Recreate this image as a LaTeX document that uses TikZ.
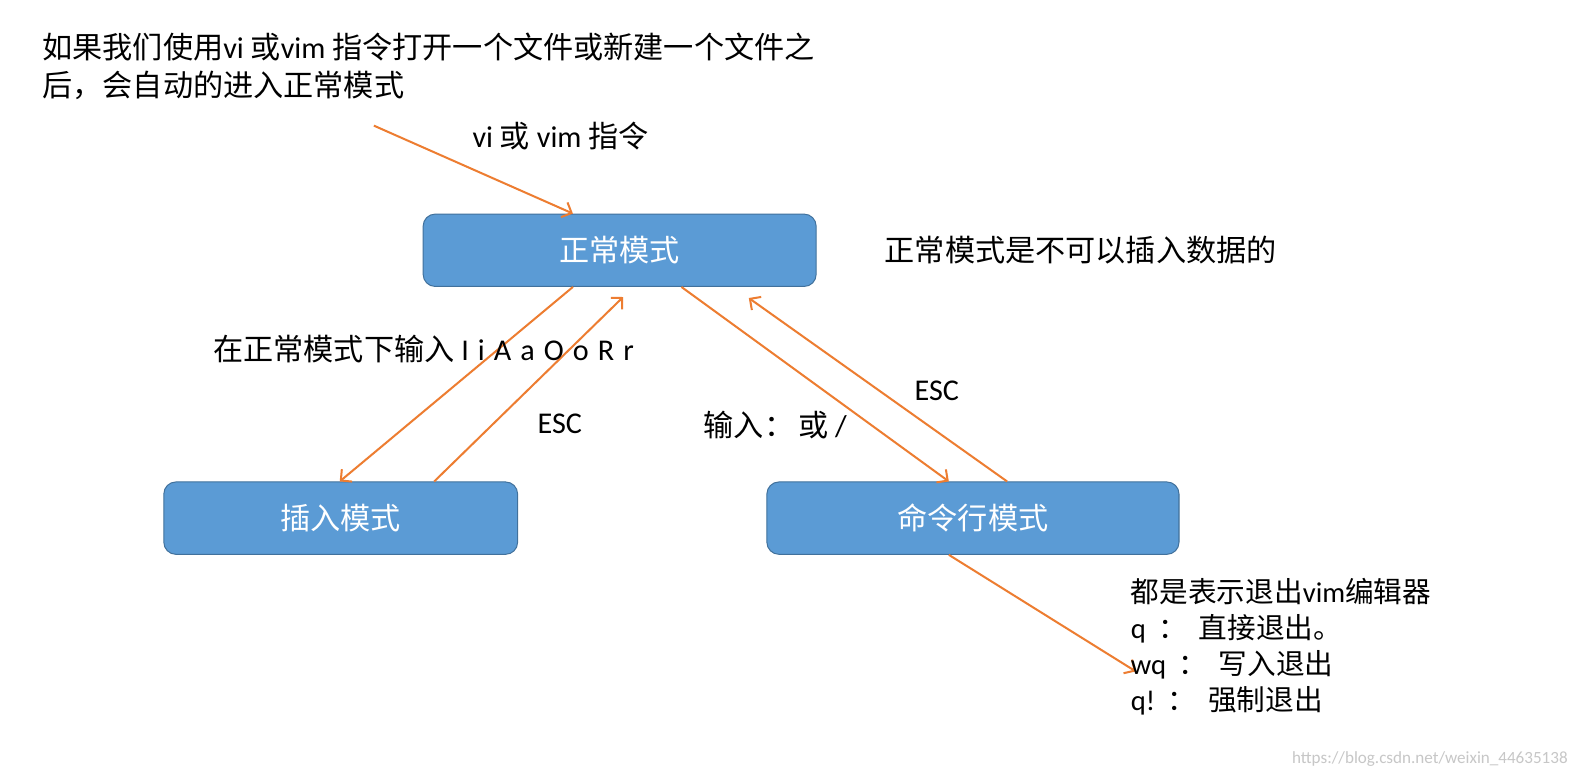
\documentclass[tikz,border=0pt]{standalone}
\usepackage{fontspec}
\setmainfont{Noto Sans CJK SC}
\newfontfamily\lat{Carlito}
\usetikzlibrary{arrows.meta}
\definecolor{boxblue}{HTML}{5B9BD5}
\definecolor{boxedge}{HTML}{41719C}
\definecolor{arrorange}{HTML}{ED7D31}
\tikzset{
  mode/.style={draw=boxedge,line width=1pt,fill=boxblue,rounded corners=12pt,minimum height=72pt,inner sep=0pt,text=white,font=\fontsize{30}{36}\selectfont},
  arr/.style={draw=arrorange,line width=2pt,-{Straight Barb[length=8pt,width=16pt,line width=2pt]}},
  lbl/.style={inner sep=0pt,font=\fontsize{30}{37}\selectfont}
}
\begin{document}
\begin{tikzpicture}[x=1pt,y=-1pt]
  \useasboundingbox[fill=white] (0,0) rectangle (1568,777);
  \node[mode,minimum width=391pt] (normal) at (616.5,249) {正常模式};
  \node[mode,minimum width=352pt] (insert) at (339,515.5) {插入模式};
  \node[mode,minimum width=410pt] (cmdline) at (968,515.5) {命令行模式};
%%%
  \node[lbl,align=left,anchor=north west] (intro) at (42,33) {如果我们使用{\lat vi }或{\lat vim }指令打开一个文件或新建一个文件之\\后，会自动的进入正常模式};
  \coordinate (start) at (372,125);
  \draw[arr] (start) -- ([xshift=-46.5pt]normal.north);
  \node[lbl,anchor=west] (open) at (470,135) {{\lat vi }或{\lat\ vim }指令};
  \node[lbl,anchor=west] (nonote) at (880,249) {正常模式是不可以插入数据的};
%%%
  \draw[arr] ([xshift=-46.5pt]normal.south) -- ([xshift=-1pt]insert.north);
  \draw[arr] ([xshift=93pt]insert.north) -- ([xshift=3.5pt,yshift=-10pt]normal.south);
  \node[lbl,anchor=west] (keys) at (212,347) {在正常模式下输入{\lat\ I\hspace{9pt}i\hspace{9pt}A\hspace{9pt}a\hspace{9pt}O\hspace{9pt}o\hspace{9pt}R\hspace{9pt}r}};
  \node[lbl] (escleft) at (557,422) {\lat ESC};
%%%
  \draw[arr] ([xshift=61.5pt]normal.south) -- ([xshift=-24pt]cmdline.north);
  \draw[arr] ([xshift=34pt]cmdline.north) -- ([xshift=128.5pt,yshift=-11pt]normal.south);
  \node[lbl,anchor=west] (colon) at (700,423) {输入：\hspace{4pt}或{\lat\ /}};
  \node[lbl] (escright) at (932,389) {\lat ESC};
%%%
  \coordinate (quitend) at (1130,668);
  \draw[arr] ([xshift=-24pt]cmdline.south) -- (quitend);
  \node[inner sep=0pt,anchor=north west,align=left,font=\fontsize{28.5}{36}\selectfont] (quit) at (1125,575) {都是表示退出{\lat vim}编辑器\\{\lat q\hspace{12pt}}：\hspace{12pt}直接退出。\\{\lat wq\hspace{12pt}}：\hspace{12pt}写入退出\\{\lat q!\hspace{12pt}}：\hspace{12pt}强制退出};
  \node[inner sep=0pt,anchor=east,text=black!22,font=\lat\fontsize{17}{20}\selectfont] (mark) at (1560,755) {https://blog.csdn.net/weixin\_44635138};
\end{tikzpicture}
\end{document}
